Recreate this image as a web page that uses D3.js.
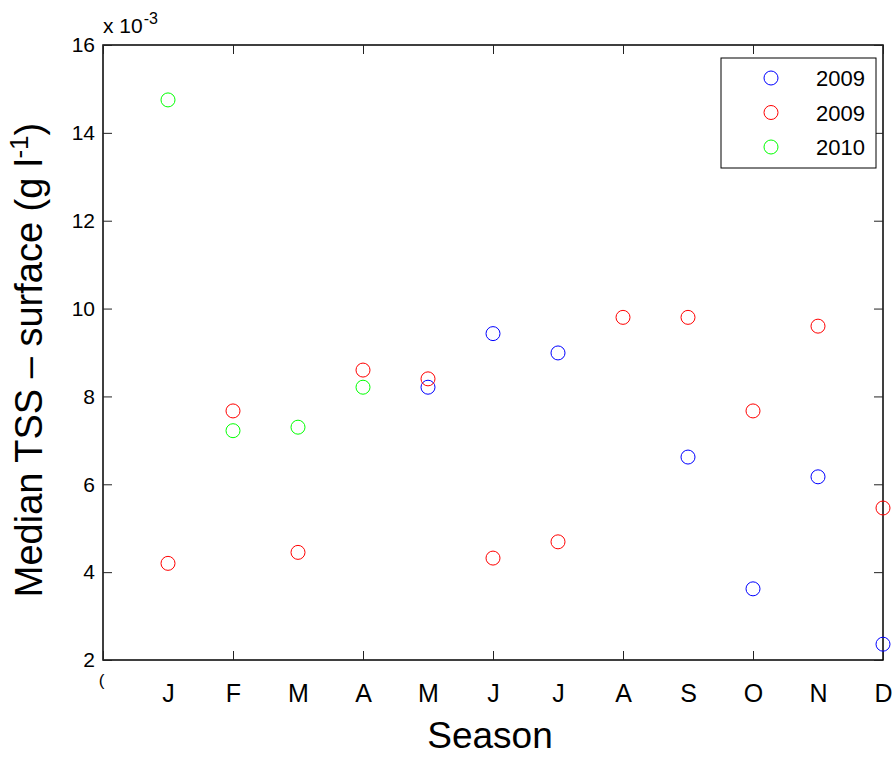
<!DOCTYPE html>
<html>
<head>
<meta charset="utf-8">
<script src="https://cdn.jsdelivr.net/npm/d3@7"></script>
<style>
  body { margin: 0; background: #fff; }
  text { font-family: "Liberation Sans", Arial, sans-serif; fill: #000; }
</style>
</head>
<body>
<svg id="plot"></svg>
<script>
// Tick labels along the season axis (index 0 .. 12)
const monthLabels = ['(', 'J', 'F', 'M', 'A', 'M', 'J', 'J', 'A', 'S', 'O', 'N', 'D'];
const yTicks = [2, 4, 6, 8, 10, 12, 14, 16];
const xTicks = [0, 2, 4, 6, 8, 10, 12];

// Series: month index and median TSS (x 10^-3 g/l)
const blueMonths = [5, 6, 7, 9, 10, 11, 12];
const blueValues = [8.21, 9.43, 8.99, 6.62, 3.62, 6.17, 2.36];

const redMonths = [1, 2, 3, 4, 5, 6, 7, 8, 9, 10, 11, 12];
const redValues = [4.2, 7.67, 4.45, 8.6, 8.4, 4.32, 4.69, 9.8, 9.8, 7.67, 9.6, 5.46];

const greenMonths = [1, 2, 3, 4];
const greenValues = [14.75, 7.22, 7.3, 8.21];

const legendLabels = ['2009', '2009', '2010'];
const colors = ['#0000ff', '#ff0000', '#00ff00'];

const series = [
    blueMonths.map((m, i) => ({ m: m, v: blueValues[i] })),
    redMonths.map((m, i) => ({ m: m, v: redValues[i] })),
    greenMonths.map((m, i) => ({ m: m, v: greenValues[i] }))
];

let width = 896;
let height = 757;
let plot = { left: 103, right: 883, top: 45, bottom: 660 };
let font = '"Liberation Sans", Arial, sans-serif';

let svg = d3.select('#plot')
    .attr('width', width)
    .attr('height', height);

let xScale = d3.scaleLinear().domain([0, 12]).range([plot.left, plot.right]);
let yScale = d3.scaleLinear().domain([2, 16]).range([plot.bottom, plot.top]);

// Box
svg.append('rect')
    .attr('x', plot.left)
    .attr('y', plot.top)
    .attr('width', plot.right - plot.left)
    .attr('height', plot.bottom - plot.top)
    .attr('fill', 'none')
    .attr('stroke', '#000')
    .attr('stroke-width', 1.5);

// Ticks (pointing inward) on all four sides
function tickStyle(g) {
    g.select('.domain').remove();
    g.selectAll('.tick line').attr('stroke', '#222').attr('stroke-width', 1);
}

svg.append('g')
    .attr('transform', `translate(0, ${plot.bottom})`)
    .call(d3.axisBottom(xScale).tickValues(xTicks).tickSize(-9).tickFormat(''))
    .call(tickStyle);
svg.append('g')
    .attr('transform', `translate(0, ${plot.top})`)
    .call(d3.axisTop(xScale).tickValues(xTicks).tickSize(-9).tickFormat(''))
    .call(tickStyle);
svg.append('g')
    .attr('transform', `translate(${plot.right}, 0)`)
    .call(d3.axisRight(yScale).tickValues(yTicks).tickSize(-9).tickFormat(''))
    .call(tickStyle);

let yAxis = svg.append('g')
    .attr('transform', `translate(${plot.left}, 0)`)
    .call(d3.axisLeft(yScale).tickValues(yTicks).tickSize(-9).tickPadding(8))
    .call(tickStyle);
yAxis.selectAll('text')
    .style('font-size', '21px')
    .style('font-family', font);

// Month labels
let xLabels = svg.append('g')
    .attr('transform', `translate(0, ${plot.bottom})`)
    .call(d3.axisBottom(xScale).tickValues(d3.range(0, 13)).tickSize(0).tickPadding(24)
        .tickFormat(i => monthLabels[i]));
xLabels.select('.domain').remove();
xLabels.selectAll('text')
    .style('font-size', '25px')
    .style('font-family', font);
xLabels.selectAll('text').filter(i => i === 0)
    .style('font-size', '17px')
    .attr('y', 14)
    .attr('x', -2);

// Exponent above the axis
let expo = svg.append('text')
    .attr('x', plot.left)
    .attr('y', 33)
    .style('font-size', '21px');
expo.append('tspan').text('x 10');
expo.append('tspan').attr('dy', -9).attr('dx', 1).style('font-size', '16px').text('-3');

// Points
series.forEach((pts, k) => {
    svg.append('g')
        .selectAll('circle')
        .data(pts)
        .enter()
        .append('circle')
        .attr('cx', d => xScale(d.m))
        .attr('cy', d => yScale(d.v))
        .attr('r', 7)
        .attr('fill', 'none')
        .attr('stroke', colors[k])
        .attr('stroke-width', 1);
});

// Axis labels
svg.append('text')
    .attr('x', 490)
    .attr('y', 748)
    .attr('text-anchor', 'middle')
    .style('font-size', '37px')
    .text('Season');

let yLab = svg.append('text')
    .attr('transform', 'translate(42, 360) rotate(-90)')
    .attr('text-anchor', 'middle')
    .style('font-size', '38px');
yLab.append('tspan').text('Median TSS \u2013 surface (g l');
yLab.append('tspan').attr('dy', -14).style('font-size', '26px').text('-1');
yLab.append('tspan').attr('dy', 14).text(')');

// Legend
let legend = svg.append('g');
legend.append('rect')
    .attr('x', 721)
    .attr('y', 58)
    .attr('width', 155)
    .attr('height', 110)
    .attr('fill', '#fff')
    .attr('stroke', '#000')
    .attr('stroke-width', 1);

let items = legend.selectAll('.legend')
    .data(legendLabels)
    .enter()
    .append('g')
    .attr('class', 'legend')
    .attr('transform', (d, i) => `translate(0, ${78 + i * 34.5})`);

items.append('circle')
    .attr('cx', 771)
    .attr('cy', 0)
    .attr('r', 7)
    .attr('fill', 'none')
    .attr('stroke', (d, i) => colors[i]);

items.append('text')
    .attr('x', 865)
    .attr('y', 8)
    .attr('text-anchor', 'end')
    .style('font-size', '22px')
    .text(d => d);
</script>
</body>
</html>
